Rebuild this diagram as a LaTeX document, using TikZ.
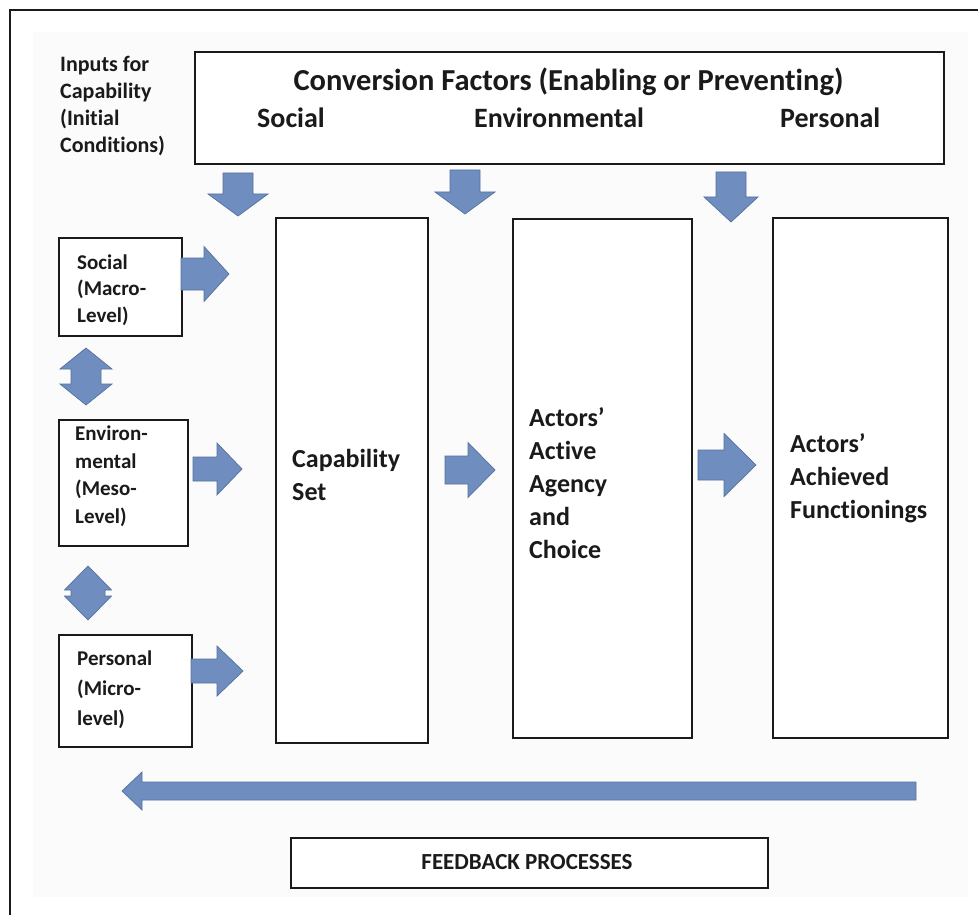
\documentclass[tikz,border=0pt]{standalone}
\usepackage{fontspec}
\setmainfont{Carlito}[Ligatures={NoCommon}]
\begin{document}
\definecolor{arrowblue}{RGB}{111,142,191}
\definecolor{arrowedge}{RGB}{84,112,158}
\definecolor{ink}{RGB}{26,26,26}
\definecolor{bgtint}{RGB}{251,251,251}
\begin{tikzpicture}[x=1pt,y=-1pt,
  box/.style={draw=ink, line width=1.8, fill=white, inner sep=0, anchor=north west},
  % multi-line texts are placed by the baseline of their last line
  txt/.style={inner sep=0, text=ink, align=left, anchor=base west},
  arrowfill/.style={fill=arrowblue, draw=arrowedge, line width=0.7, line join=miter},
  % block arrow: total length, head length, shaft width, head width
  pics/fatarrow/.style n args={4}{code={
    \path[arrowfill] (0,-#3/2) -- (#1-#2,-#3/2) -- (#1-#2,-#4/2) -- (#1,0)
      -- (#1-#2,#4/2) -- (#1-#2,#3/2) -- (0,#3/2) -- cycle;
  }},
  % double-headed block arrow, starting at one tip
  pics/dblarrow/.style n args={4}{code={
    \path[arrowfill] (0,0) -- (#2,-#4/2) -- (#2,-#3/2) -- (#1-#2,-#3/2)
      -- (#1-#2,-#4/2) -- (#1,0) -- (#1-#2,#4/2) -- (#1-#2,#3/2)
      -- (#2,#3/2) -- (#2,#4/2) -- cycle;
  }}]
\useasboundingbox (0,0) rectangle (978,915);
\fill[white] (0,0) rectangle (978,915);
\fill[bgtint] (33,32) rectangle (968,897);
% outer frame
\draw[ink, line width=1.8] (978,10) -- (10,10) -- (10,915);

% conversion factors box
\node[box, minimum width=749, minimum height=112] (conv) at (194,51) {};
\node[txt, anchor=base, font=\bfseries\fontsize{30.5}{36}\selectfont] (convtitle) at (568.5,91)
  {Conversion Factors (Enabling or Preventing)};
\node[txt, font=\bfseries\fontsize{28}{34}\selectfont] (cfsocial) at (257,128) {Social};
\node[txt, font=\bfseries\fontsize{28}{34}\selectfont] (cfenv) at (474,128) {Environmental};
\node[txt, font=\bfseries\fontsize{28}{34}\selectfont] (cfpers) at (780,128) {Personal};

\node[txt, font=\bfseries\fontsize{22}{27}\selectfont] (inputs) at (60,153)
  {Inputs for\\Capability\\(Initial\\Conditions)};

% input boxes
\node[box, minimum width=123, minimum height=98] (social) at (58,237) {};
\node[txt, font=\bfseries\fontsize{21}{26.5}\selectfont] (socialtxt) at (77,322)
  {Social\\(Macro-\\Level)};
\node[box, minimum width=129, minimum height=126] (env) at (58,419) {};
\node[txt, font=\bfseries\fontsize{21}{27.5}\selectfont] (envtxt) at (75,523)
  {Environ-\\mental\\(Meso-\\Level)};
\node[box, minimum width=133, minimum height=112] (pers) at (58,634) {};
\node[txt, font=\bfseries\fontsize{21}{30}\selectfont] (perstxt) at (77,725)
  {Personal\\(Micro-\\level)};

% main columns
\node[box, minimum width=152, minimum height=525] (cap) at (275,217) {};
\node[txt, font=\bfseries\fontsize{26}{33}\selectfont] (captxt) at (292,500)
  {Capability\\Set};
\node[box, minimum width=179, minimum height=519] (agency) at (512,218) {};
\node[txt, font=\bfseries\fontsize{26}{33}\selectfont] (agencytxt) at (529,558)
  {Actors’\\Active\\Agency\\and\\Choice};
\node[box, minimum width=175, minimum height=520] (func) at (772,217) {};
\node[txt, font=\bfseries\fontsize{26}{33}\selectfont] (functxt) at (790,518)
  {Actors’\\Achieved\\Functionings};

% feedback box
\node[box, minimum width=477, minimum height=50] (fb) at (290,837) {};
\node[txt, anchor=base, font=\bfseries\fontsize{23}{28}\selectfont] (fbtxt) at (527,869)
  {FEEDBACK PROCESSES};

% conversion-factor arrows
\pic[rotate=-90] (cfa1) at (238,173) {fatarrow={43}{22}{30}{60}};
\pic[rotate=-90] (cfa2) at (465,170) {fatarrow={44}{22}{30}{60}};
\pic[rotate=-90] (cfa3) at (731,172) {fatarrow={50}{25}{30}{54}};

% input arrows
\pic (ina1) at (181,274) {fatarrow={48}{25}{32}{55}};
\pic (ina2) at (193,469) {fatarrow={49}{25}{24}{52}};
\pic (ina3) at (191,671) {fatarrow={52}{26}{24}{50}};

% flow arrows between columns
\pic (flow1) at (445,470) {fatarrow={50}{27}{28}{55}};
\pic (flow2) at (698,465) {fatarrow={58}{32}{30}{63}};

% two-way arrows between input levels
\pic[rotate=-90] (dbl1) at (86,348) {dblarrow={57}{21}{30}{52}};
\pic[rotate=-90] (dbl2) at (88,566) {dblarrow={54}{24}{34}{47}};

% feedback arrow
\pic[rotate=180] (fbarrow) at (916,791) {fatarrow={794}{20}{18}{38}};
\end{tikzpicture}
\end{document}
